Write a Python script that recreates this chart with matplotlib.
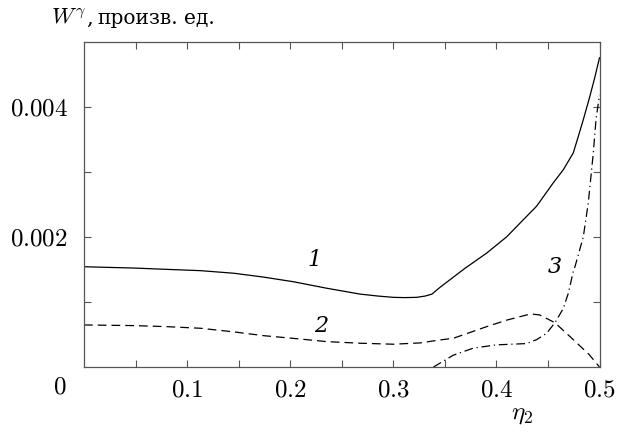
import numpy as np
import matplotlib
matplotlib.use("Agg")
import matplotlib.pyplot as plt

plt.rcParams['mathtext.fontset'] = 'cm'
plt.rcParams['font.family'] = ['DejaVu Serif']

# Curve 1 (solid)
x1 = [0.0, 0.0485, 0.08, 0.113, 0.1455, 0.1746, 0.203, 0.2354, 0.2677, 0.285,
      0.30, 0.311, 0.3227, 0.3310, 0.3375, 0.345, 0.369, 0.3906, 0.410, 0.4229,
      0.439, 0.4552, 0.4649, 0.4746, 0.4794, 0.4843, 0.490, 0.495, 0.5]
y1 = [0.00154, 0.00152, 0.00150, 0.00148, 0.00144, 0.00138, 0.00131, 0.00121,
      0.00112, 0.00109, 0.00107, 0.001066, 0.00107, 0.00109, 0.00112, 0.00122,
      0.00151, 0.00175, 0.00200, 0.00221, 0.00247, 0.00283, 0.00303, 0.00329,
      0.00354, 0.00380, 0.00412, 0.00442, 0.00475]

# Curve 2 (dashed)
x2 = [0.0, 0.0485, 0.08, 0.113, 0.145, 0.175, 0.203, 0.2354, 0.268, 0.30,
      0.326, 0.345, 0.358, 0.3906, 0.41, 0.4294, 0.436, 0.442, 0.4568, 0.4746,
      0.49, 0.5]
y2 = [0.000646, 0.000636, 0.00062, 0.000595, 0.00054, 0.00048, 0.00044,
      0.00039, 0.000365, 0.00035, 0.00037, 0.000415, 0.00044, 0.00062, 0.00072,
      0.00080, 0.00081, 0.00080, 0.00068, 0.00042, 0.00019, 0.0]

# Curve 3 (dash-dot)
x3 = [0.339, 0.358, 0.3776, 0.40, 0.4294, 0.439, 0.4488, 0.4568, 0.4649,
      0.4697, 0.4746, 0.4762, 0.4843, 0.4891, 0.494, 0.4966, 0.5]
y3 = [0.0, 0.00018, 0.00029, 0.00034, 0.00036, 0.00042, 0.00052, 0.00068,
      0.00090, 0.00113, 0.00147, 0.00154, 0.00200, 0.00252, 0.00329, 0.00380,
      0.00418]

curve_labels = ['1', '2', '3']
label_pos_x = [0.224, 0.2305, 0.457]
label_pos_y = [0.00165, 0.000636, 0.00154]

xticks = [0.05, 0.1, 0.15, 0.2, 0.25, 0.3, 0.35, 0.4, 0.45, 0.5]
xticklabels = ['', '0.1', '', '0.2', '', '0.3', '', '0.4', '', '0.5']
yticks = [0.001, 0.002, 0.003, 0.004]
yticklabels = ['', '0.002', '', '0.004']

fig = plt.figure(figsize=(6.28, 4.32), dpi=100)
ax = fig.add_axes([84/628, 1-367/432, (599.5-84)/628, (367-41.5)/432])

ax.plot(x1, y1, color='black', lw=0.9)
ax.plot(x2, y2, color='black', lw=0.9, dashes=(7, 4))
ax.plot(x3, y3, color='black', lw=0.9, dashes=(7, 3, 1, 3))

for t, xx, yy in zip(curve_labels, label_pos_x, label_pos_y):
    ax.text(xx, yy, t, fontsize=16, style='italic', ha='center', va='center',
            family='DejaVu Serif')

ax.set_xlim(0, 0.5)
ax.set_ylim(0, 0.005)
ax.set_xticks(xticks)
ax.set_xticklabels(['$%s$' % s if s else '' for s in xticklabels], fontsize=18)
ax.set_yticks(yticks)
ax.set_yticklabels(['$%s$' % s if s else '' for s in yticklabels], fontsize=18)
ax.tick_params(direction='in', length=5, width=0.8, color='#555555',
               top=True, right=True)
ax.tick_params(axis='x', pad=8.5)
ax.tick_params(axis='y', pad=11.5)
for sp in ax.spines.values():
    sp.set_color('#555555')
    sp.set_linewidth(0.9)

fig.text(60/628, 1-387/432, '$0$', fontsize=18, ha='center', va='center')
fig.text(51/628, 1-24/432, r'$W^{\gamma}$', fontsize=16.5, ha='left',
         va='baseline')
fig.text(86/628, 1-24/432, ',', fontsize=15, ha='left', va='baseline')
fig.text(97/628, 1-24/432, 'произв.', fontsize=14.5, ha='left', va='baseline')
fig.text(184/628, 1-24/432, 'ед.', fontsize=14.5, ha='left', va='baseline')
fig.text(522/628, 1-414/432, r'$\eta_2$', fontsize=18, ha='center', va='center')

fig.savefig('out.png', dpi=100)
